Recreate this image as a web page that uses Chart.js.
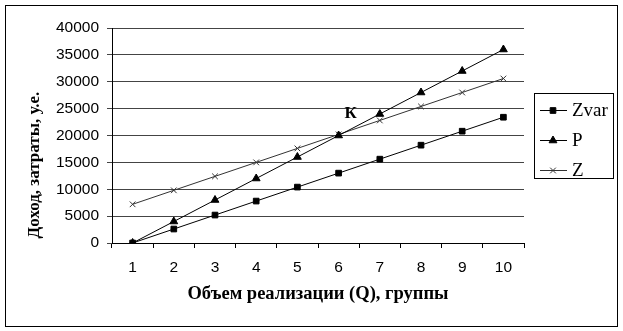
<!DOCTYPE html>
<html>
<head>
<meta charset="utf-8">
<script src="https://cdn.jsdelivr.net/npm/chart.js@4"></script>
<style>
  html, body { margin: 0; padding: 0; background: #fff; }
  #wrap { width: 623px; height: 331px; }
</style>
</head>
<body>
<div id="wrap"><canvas id="breakEven"></canvas></div>
<script>
// break-even chart: volume (Q) vs income / costs

const groups = ['1', '2', '3', '4', '5', '6', '7', '8', '9', '10']
const zvarValues = [0, 2600, 5200, 7800, 10400, 13000, 15600, 18200, 20800, 23400]
const pValues = [0, 4000, 8000, 12000, 16000, 20000, 24000, 28000, 32000, 36000]
const zValues = [7200, 9800, 12400, 15000, 17600, 20200, 22800, 25400, 28000, 30600]
const seriesNames = ['Zvar', 'P', 'Z']
const pointLabel = 'К'
const yTitle = 'Доход, затраты, у.е.'
const xTitle = 'Объем реализации (Q), группы'

const serif = '"Liberation Serif", "Times New Roman", serif'
const sans = '"Liberation Sans", Arial, sans-serif'

// white page with a thin frame
const framePlugin = {
  id: 'frame',
  beforeDraw(chart) {
    const c = chart.ctx
    c.save()
    c.fillStyle = '#fff'
    c.fillRect(0, 0, chart.width, chart.height)
    c.strokeStyle = '#000'
    c.lineWidth = 1
    c.strokeRect(5.5, 5.5, 612, 321)
    c.restore()
  }
}

// legend in a box, line + marker like the office chart
const boxLegend = {
  id: 'boxLegend',
  afterDraw(chart) {
    const c = chart.ctx
    const x0 = 534, y0 = 93, w = 79, h = 85
    c.save()
    c.strokeStyle = '#000'
    c.lineWidth = 1
    c.strokeRect(x0 + 0.5, y0 + 0.5, w, h)
    chart.data.datasets.forEach((ds, i) => {
      const y = y0 + 17 + i * 30
      c.strokeStyle = ds.borderColor
      c.lineWidth = 1
      c.beginPath()
      c.moveTo(x0 + 6, y + 0.5)
      c.lineTo(x0 + 33, y + 0.5)
      c.stroke()
      Chart.helpers.drawPoint(c, {
        pointStyle: ds.pointStyle,
        radius: ds.pointRadius,
        borderWidth: 1
      }, x0 + 19, y + 0.5)
      c.fillStyle = '#000'
      c.font = '19px ' + serif
      c.textBaseline = 'middle'
      c.textAlign = 'left'
      c.fillText(ds.label, x0 + 38, y + 1)
    })
    c.restore()
  }
}

// the break-even point letter and the rotated y title
const pointMark = {
  id: 'pointMark',
  afterDatasetsDraw(chart) {
    const c = chart.ctx
    const xs = chart.scales.x, ys = chart.scales.y
    c.save()
    c.fillStyle = '#000'
    c.font = 'bold 17px ' + serif
    c.textAlign = 'center'
    c.textBaseline = 'middle'
    c.fillText(pointLabel, xs.getPixelForValue(5) + 12, ys.getPixelForValue(24000))
    c.translate(35, ys.getPixelForValue(14500))
    c.rotate(-Math.PI / 2)
    c.font = 'bold 17px ' + serif
    c.fillText(yTitle, 0, 0)
    c.restore()
  }
}

const beCtx = document.getElementById('breakEven').getContext('2d')

const breakEven = new Chart(beCtx, {
  type: 'line',
  data: {
    labels: groups,
    datasets: [{
      label: seriesNames[0],
      data: zvarValues,
      borderColor: '#000',
      backgroundColor: '#000',
      pointStyle: 'rect',
      pointRadius: 4,
      borderWidth: 1
    }, {
      label: seriesNames[1],
      data: pValues,
      borderColor: '#000',
      backgroundColor: '#000',
      pointStyle: 'triangle',
      pointRadius: 4.5,
      borderWidth: 1
    }, {
      label: seriesNames[2],
      data: zValues,
      borderColor: '#333',
      backgroundColor: '#333',
      pointStyle: 'crossRot',
      pointRadius: 4,
      borderWidth: 1
    }]
  },
  options: {
    responsive: true,
    maintainAspectRatio: false,
    animation: false,
    layout: { padding: { top: 28, right: 99, left: 0, bottom: 22 } },
    plugins: {
      legend: { display: false },
      tooltip: { enabled: false }
    },
    elements: { line: { tension: 0 } },
    scales: {
      x: {
        offset: true,
        grid: {
          offset: true,
          drawOnChartArea: false,
          drawTicks: true,
          tickLength: 5,
          color: '#000'
        },
        border: { color: '#000', width: 1 },
        ticks: {
          color: '#000',
          font: { family: sans, size: 15.5 },
          padding: 10,
          maxRotation: 0
        },
        title: {
          display: true,
          text: xTitle,
          color: '#000',
          font: { family: serif, size: 18.5, weight: 'bold' },
          padding: { top: 4, bottom: 4 }
        },
        afterFit(scale) { scale.height = 66 }
      },
      y: {
        min: 0,
        max: 40000,
        ticks: {
          stepSize: 5000,
          color: '#000',
          font: { family: sans, size: 15.5 },
          padding: 8,
          callback: v => String(v)
        },
        grid: { color: '#444', tickLength: 5 },
        border: { color: '#000', width: 1 },
        title: { display: false },
        afterFit(scale) { scale.width = 112 }
      }
    }
  },
  plugins: [framePlugin, boxLegend, pointMark]
})
</script>
</body>
</html>
